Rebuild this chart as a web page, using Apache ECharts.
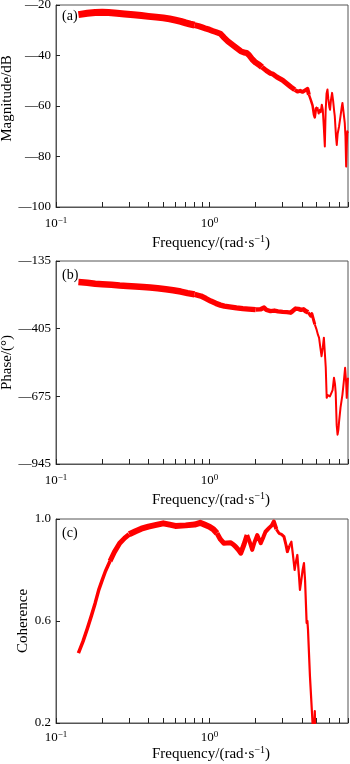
<!DOCTYPE html>
<html>
<head>
<meta charset="utf-8">
<script src="https://cdn.jsdelivr.net/npm/echarts@6/dist/echarts.min.js"></script>
<style>
  html, body { margin: 0; padding: 0; background: #fff; }
  #chart { width: 350px; height: 764px; }
</style>
</head>
<body>
<div id="chart"></div>
<script>
// ---- Frequency response data ----
const magFreq = [0.14, 0.16, 0.18, 0.2, 0.22, 0.25, 0.28, 0.32, 0.36, 0.4, 0.45, 0.5, 0.55, 0.6, 0.65, 0.7, 0.75, 0.8, 0.85, 0.9, 0.95, 1.0, 1.05, 1.1, 1.18, 1.25, 1.32, 1.4, 1.5, 1.6, 1.68, 1.75, 1.81, 1.9, 2.0, 2.1, 2.2, 2.35, 2.5, 2.6, 2.75, 2.9, 3.0, 3.2, 3.4, 3.6, 3.75, 3.9, 4.05, 4.2, 4.35, 4.45, 4.57, 4.7, 4.8, 4.86, 4.95, 5.05, 5.15, 5.25, 5.31, 5.4, 5.48, 5.56, 5.65, 5.72, 5.8, 5.88, 5.95, 6.05, 6.11, 6.2, 6.3, 6.4, 6.5, 6.56, 6.68, 6.76, 6.85, 7.0, 7.15, 7.3, 7.36, 7.5, 7.62, 7.7, 7.78, 7.85, 7.92, 8.0];
const magnitude = [-23.8, -23.3, -23.0, -22.9, -23.0, -23.3, -23.6, -23.9, -24.2, -24.5, -24.8, -25.1, -25.5, -26.0, -26.5, -27.1, -27.6, -28.0, -28.4, -28.9, -29.4, -29.8, -30.3, -30.7, -31.4, -33.0, -34.4, -35.6, -37.0, -38.3, -38.8, -39.0, -39.8, -41.5, -42.8, -43.6, -44.6, -46.0, -47.1, -47.4, -48.5, -49.3, -49.8, -51.2, -52.5, -53.6, -54.3, -54.0, -54.4, -53.8, -53.2, -55.5, -57.5, -59.8, -63.5, -64.5, -61.0, -60.5, -63.0, -61.5, -62.5, -59.5, -61.5, -68.0, -76.0, -62.0, -55.0, -53.5, -57.0, -60.5, -61.5, -57.5, -54.8, -58.0, -62.0, -64.0, -72.0, -75.4, -71.0, -68.0, -64.0, -60.0, -58.8, -63.0, -66.7, -72.0, -84.0, -76.0, -70.0, -70.7];

const phaseFreq = [0.14, 0.16, 0.18, 0.2, 0.23, 0.26, 0.29, 0.33, 0.37, 0.41, 0.46, 0.52, 0.58, 0.65, 0.72, 0.8, 0.88, 0.95, 1.02, 1.1, 1.18, 1.25, 1.35, 1.5, 1.65, 1.8, 2.0, 2.15, 2.27, 2.35, 2.5, 2.65, 2.8, 3.0, 3.2, 3.38, 3.5, 3.65, 3.8, 3.95, 4.1, 4.24, 4.4, 4.57, 4.65, 4.72, 4.86, 5.0, 5.1, 5.18, 5.28, 5.38, 5.48, 5.57, 5.65, 5.73, 5.81, 5.9, 6.0, 6.1, 6.24, 6.35, 6.48, 6.58, 6.65, 6.75, 6.84, 6.92, 7.0, 7.15, 7.36, 7.5, 7.66, 7.78, 7.85, 7.92, 8.0];
const phase = [-219, -222, -226, -228, -230, -233, -235, -237, -239, -241, -244, -248, -252, -257, -263, -268, -275, -285, -295, -304, -311, -315, -318, -322, -325, -327, -329, -328, -321, -330, -335, -333, -336, -338, -339, -341, -334, -325, -326, -330, -328, -335, -340, -355, -345, -350, -388, -410, -430, -441, -480, -515, -480, -441, -500, -561, -681, -670, -668, -675, -681, -650, -601, -625, -660, -790, -828, -810, -775, -720, -668, -620, -561, -620, -681, -640, -601];

const cohFreq = [0.14, 0.15, 0.16, 0.17, 0.18, 0.19, 0.2, 0.21, 0.225, 0.24, 0.26, 0.28, 0.3, 0.33, 0.36, 0.4, 0.45, 0.5, 0.55, 0.6, 0.7, 0.8, 0.87, 0.93, 1.0, 1.06, 1.12, 1.18, 1.24, 1.3, 1.37, 1.43, 1.48, 1.55, 1.6, 1.68, 1.76, 1.83, 1.9, 1.97, 2.05, 2.16, 2.25, 2.32, 2.45, 2.55, 2.63, 2.73, 2.84, 2.95, 3.06, 3.15, 3.22, 3.32, 3.42, 3.5, 3.59, 3.67, 3.74, 3.82, 3.89, 3.97, 4.05, 4.13, 4.2, 4.3, 4.35, 4.39, 4.52, 4.7, 4.78, 4.86, 4.92];
const coherence = [0.474, 0.52, 0.57, 0.62, 0.67, 0.722, 0.76, 0.795, 0.835, 0.87, 0.905, 0.925, 0.94, 0.952, 0.962, 0.97, 0.977, 0.983, 0.978, 0.973, 0.975, 0.978, 0.985, 0.978, 0.97, 0.96, 0.944, 0.92, 0.905, 0.906, 0.907, 0.9, 0.892, 0.878, 0.866, 0.9, 0.937, 0.91, 0.879, 0.91, 0.937, 0.905, 0.93, 0.95, 0.965, 0.975, 0.99, 0.96, 0.944, 0.94, 0.931, 0.9, 0.872, 0.895, 0.911, 0.86, 0.80, 0.835, 0.859, 0.79, 0.722, 0.76, 0.80, 0.827, 0.76, 0.592, 0.60, 0.565, 0.383, 0.2, 0.13, 0.247, 0.12];

// ---- Tick positions and labels ----
const freqTicks = [0.1, 0.2, 0.3, 0.4, 0.5, 0.6, 0.7, 0.8, 0.9, 1, 2, 3, 4, 5, 6, 7, 8];
const freqLabels = [0.1, 1];
const magTicks = [-100, -80, -60, -40, -20];
const phaseTicks = [-945, -675, -405, -135];
const cohTicks = [0.2, 0.6, 1.0];

const RED = '#ff0000';
const FONT = 'Liberation Serif';
const AXIS_COLOR = '#555';

// Line width bands: [upper frequency, stroke width]
const magWidths = [[0.8, 7], [2.2, 6], [3.5, 5], [4.45, 4], [5.0, 2.5], [Infinity, 2]];
const phaseWidths = [[0.8, 6.5], [2.0, 5.5], [4.4, 4.5], [4.8, 3], [Infinity, 2]];
const cohWidths = [[0.22, 3.5], [0.3, 5], [1.1, 6], [1.7, 5], [2.7, 4], [3.3, 3], [Infinity, 2.2]];

function bandedLine(freq, vals, widths, idx) {
  const out = [];
  let start = 0;
  widths.forEach(([upper, w]) => {
    if (start >= freq.length - 1) return;
    let end = start;
    while (end < freq.length - 1 && freq[end] < upper) end++;
    const pts = [];
    for (let i = start; i <= end; i++) pts.push([freq[i], vals[i]]);
    out.push({
      type: 'line', xAxisIndex: idx, yAxisIndex: idx, data: pts,
      symbol: 'none', showSymbol: false, silent: true, animation: false, clip: true,
      lineStyle: { color: RED, width: w, cap: 'butt', join: 'round' }
    });
    start = end;
  });
  return out;
}

const supRich = {
  b: { fontFamily: FONT, fontSize: 13, color: '#000', lineHeight: 16 },
  s: { fontFamily: FONT, fontSize: 9, color: '#000', verticalAlign: 'top', lineHeight: 16 }
};
const nameRich = {
  t: { fontFamily: FONT, fontSize: 15, color: '#000', lineHeight: 18 },
  s: { fontFamily: FONT, fontSize: 10, color: '#000', verticalAlign: 'top', lineHeight: 18 }
};

function freqAxis(idx, labelMargin, nameGap) {
  return {
    type: 'log', logBase: 10, gridIndex: idx, min: 0.1, max: 8,
    axisLine: { lineStyle: { color: AXIS_COLOR, width: 1 } },
    axisTick: { inside: true, length: 5, customValues: freqTicks, lineStyle: { color: '#222' } },
    axisLabel: {
      customValues: freqLabels, margin: labelMargin,
      formatter: v => '{b|10}{s|' + String(Math.round(Math.log10(v))).replace('-', '\u2212') + '}',
      rich: supRich
    },
    splitLine: { show: false },
    name: '{t|Frequency/(rad\u00b7s}{s|\u22121}{t|)}',
    nameLocation: 'middle', nameGap: nameGap, nameMoveOverlap: false,
    nameTextStyle: { rich: nameRich, padding: [0, 0, 0, 18] }
  };
}

function valueAxis(idx, min, max, ticks, name, nameGap, fmt, namePad) {
  return {
    type: 'value', gridIndex: idx, min: min, max: max,
    axisLine: { show: true, lineStyle: { color: AXIS_COLOR, width: 1 } },
    axisTick: { show: true, inside: true, length: 4, customValues: ticks, lineStyle: { color: '#222' } },
    axisLabel: { customValues: ticks, margin: 5, formatter: fmt, fontFamily: FONT, fontSize: 13, color: '#000' },
    splitLine: { show: false },
    name: name, nameLocation: 'middle', nameGap: nameGap, nameMoveOverlap: false,
    nameTextStyle: { fontFamily: FONT, fontSize: 15, color: '#000', padding: namePad }
  };
}

const negFmt = v => (v < 0 ? '\u2014' + Math.abs(v) : String(v));
const cohFmt = v => v.toFixed(1);

const gridBase = {
  left: 56, right: 2, show: true, borderColor: AXIS_COLOR, borderWidth: 1,
  containLabel: false, outerBoundsMode: 'none'
};

const option = {
  backgroundColor: '#fff',
  animation: false,
  grid: [
    Object.assign({ top: 5, height: 202 }, gridBase),
    Object.assign({ top: 261, height: 203 }, gridBase),
    Object.assign({ top: 519, height: 204 }, gridBase)
  ],
  xAxis: [freqAxis(0, 9, 27), freqAxis(1, 9, 27), freqAxis(2, 7, 22)],
  yAxis: [
    valueAxis(0, -100, -20, magTicks, 'Magnitude/dB', 41, negFmt, [0, 0, 0, 15]),
    valueAxis(1, -945, -135, phaseTicks, 'Phase/(\u00b0)', 41, negFmt, 0),
    valueAxis(2, 0.2, 1.0, cohTicks, 'Coherence', 25, cohFmt, 0)
  ],
  graphic: [
    { type: 'text', left: 62, top: 9, style: { text: '(a)', font: '14px "Liberation Serif"', fill: '#000' } },
    { type: 'text', left: 62, top: 268, style: { text: '(b)', font: '14px "Liberation Serif"', fill: '#000' } },
    { type: 'text', left: 62, top: 526, style: { text: '(c)', font: '14px "Liberation Serif"', fill: '#000' } }
  ],
  series: [].concat(
    bandedLine(magFreq, magnitude, magWidths, 0),
    bandedLine(phaseFreq, phase, phaseWidths, 1),
    bandedLine(cohFreq, coherence, cohWidths, 2)
  )
};

const chart = echarts.init(document.getElementById('chart'), null, { renderer: 'canvas' });
chart.setOption(option);
</script>
</body>
</html>
